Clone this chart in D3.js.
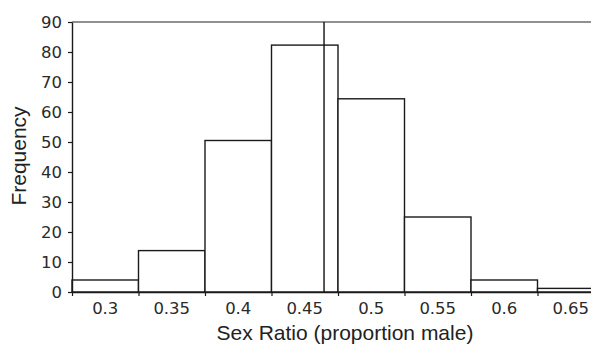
<!DOCTYPE html>
<html><head><meta charset="utf-8">
<script src="https://cdn.jsdelivr.net/npm/d3@7"></script>
<style>body{margin:0;background:#fff}svg{display:block}</style>
</head><body>
<svg id="c" width="591" height="345"></svg>
<script>
const binLabels = ["0.3","0.35","0.4","0.45","0.5","0.55","0.6","0.65"];
const binStarts = [0.275,0.325,0.375,0.425,0.475,0.525,0.575,0.625];
const binWidth = 0.05;
const frequencies = [4,13.8,50.5,82.3,64.4,25,4,1.2];
const yTicks = [0,10,20,30,40,50,60,70,80,90];
const meanLine = 0.4645;

const svg = d3.select("#c");
const x = d3.scaleLinear().domain([0.275,0.675]).range([72,604]);
const y = d3.scaleLinear().domain([0,90]).range([292,22]);
const tickFont = "'DejaVu Sans', Verdana, sans-serif";
const titleFont = "'Liberation Sans', Arial, sans-serif";

// top gridline
svg.append("line").attr("x1",72).attr("x2",591).attr("y1",y(90)).attr("y2",y(90))
  .attr("stroke","#6b6b6b").attr("stroke-width",1.6);

// bars
svg.append("g").selectAll("rect").data(frequencies).join("rect")
  .attr("x",(d,i)=>x(binStarts[i]))
  .attr("width",(d,i)=>x(binStarts[i]+binWidth)-x(binStarts[i]))
  .attr("y",d=>y(d)).attr("height",d=>y(0)-y(d))
  .attr("fill","#fff").attr("stroke","#1a1a1a").attr("stroke-width",1.4);

// mean line
svg.append("line").attr("x1",x(meanLine)).attr("x2",x(meanLine)).attr("y1",y(90)).attr("y2",y(0))
  .attr("stroke","#111").attr("stroke-width",1.4);

// y axis
const ya = svg.append("g").attr("transform","translate(72,0)")
  .call(d3.axisLeft(y).tickValues(yTicks).tickSize(4).tickPadding(6).tickSizeOuter(0));
ya.select(".domain").attr("stroke","#1a1a1a").attr("stroke-width",1.4);
ya.selectAll(".tick line").attr("stroke","#1a1a1a").attr("stroke-width",1.2);
ya.selectAll("text").attr("font-family",tickFont).attr("font-size",16.5).attr("fill","#2a2a2a");

// x axis: ticks at bin boundaries, labels at centers
const xa = svg.append("g").attr("transform","translate(0,292)")
  .call(d3.axisBottom(x).tickValues(binStarts).tickSize(4).tickFormat("").tickSizeOuter(0));
xa.select(".domain").attr("stroke","#1a1a1a").attr("stroke-width",1.4);
xa.selectAll(".tick line").attr("stroke","#1a1a1a").attr("stroke-width",1.2);
svg.append("g").selectAll("text").data(binLabels).join("text")
  .attr("x",(d,i)=>x(binStarts[i]+binWidth/2)).attr("y",314)
  .attr("text-anchor","middle").attr("font-family",tickFont).attr("font-size",16.5).attr("fill","#2a2a2a")
  .text(d=>d);

// axis titles
svg.append("text").attr("x",345).attr("y",340).attr("text-anchor","middle")
  .attr("font-family",titleFont).attr("font-size",21).attr("fill","#222").text("Sex Ratio (proportion male)");
svg.append("text").attr("transform","translate(26,156) rotate(-90)").attr("text-anchor","middle")
  .attr("font-family",titleFont).attr("font-size",21).attr("fill","#222").text("Frequency");
</script>
</body></html>
